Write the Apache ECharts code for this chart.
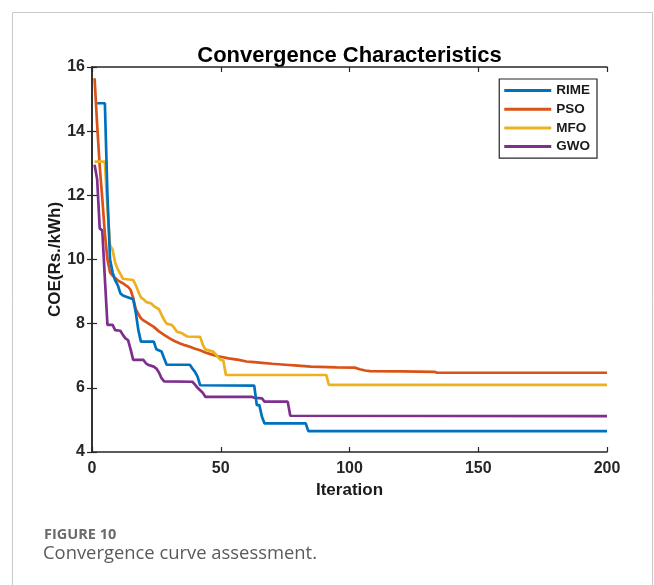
<!DOCTYPE html>
<html>
<head>
<meta charset="utf-8">
<script src="https://cdn.jsdelivr.net/npm/echarts@6/dist/echarts.min.js"></script>
<style>
html,body{margin:0;padding:0;background:#fff;}
#chart{width:654px;height:585px;}
</style>
</head>
<body>
<div id="chart"></div>
<script>
// ---- data ([iteration, COE]) ----
const seriesNames = ['RIME', 'PSO', 'MFO', 'GWO'];
const xTicks = [0, 50, 100, 150, 200];
const yTicks = [4, 6, 8, 10, 12, 14, 16];

const rimeData = [
  [2,14.87],[5,14.87],[6,12.0],[7,10.0],[8,9.6],[9,9.35],[10,9.2],[11,8.95],[12,8.88],[13,8.85],
  [16,8.76],[17,8.35],[18,7.8],[19,7.44],[24,7.44],[25,7.2],[27,7.13],[28,6.92],[29,6.72],
  [38,6.72],[39,6.6],[40,6.5],[41,6.35],[42,6.08],[63,6.07],[64,5.46],[65,5.46],[66,5.1],
  [67,4.89],[83,4.89],[84,4.65],[200,4.65]
];
const psoData = [
  [1,15.65],[2,14.2],[3,12.9],[4,11.9],[5,10.8],[6,10.0],[7,9.6],[8,9.5],[9,9.42],[10,9.35],
  [11,9.3],[12,9.26],[13,9.2],[14,9.15],[15,9.05],[16,8.8],[17,8.45],[18,8.3],[19,8.17],
  [20,8.1],[22,8.0],[24,7.9],[26,7.76],[28,7.65],[30,7.55],[32,7.46],[34,7.39],[36,7.33],
  [38,7.28],[40,7.22],[42,7.17],[44,7.1],[46,7.05],[48,7.0],[50,6.97],[53,6.92],[57,6.87],
  [60,6.82],[63,6.8],[66,6.78],[70,6.75],[75,6.72],[80,6.69],[85,6.66],[95,6.64],[102,6.63],
  [104,6.58],[106,6.54],[108,6.52],[120,6.51],[133,6.5],[134,6.47],[200,6.47]
];
const mfoData = [
  [1,13.05],[5,13.05],[6,11.6],[7,10.45],[8,10.3],[9,9.9],[10,9.7],[11,9.55],[12,9.4],
  [16,9.36],[17,9.2],[18,9.0],[19,8.82],[20,8.76],[21,8.68],[23,8.63],[24,8.55],[26,8.45],
  [27,8.28],[28,8.12],[29,8.0],[31,7.96],[32,7.86],[33,7.75],[35,7.7],[37,7.6],[42,7.59],
  [43,7.35],[44,7.2],[47,7.13],[48,7.05],[49,6.95],[50,6.87],[51,6.85],[52,6.4],[91,6.4],
  [92,6.09],[200,6.09]
];
const gwoData = [
  [1,12.95],[2,12.5],[3,10.97],[4,10.9],[5,9.4],[6,7.96],[8,7.96],[9,7.8],[11,7.78],
  [12,7.65],[13,7.54],[14,7.49],[15,7.2],[16,6.87],[20,6.87],[21,6.76],[22,6.71],[24,6.66],
  [25,6.6],[26,6.48],[27,6.3],[28,6.2],[39,6.19],[40,6.1],[41,6.0],[43,5.85],[44,5.72],
  [62,5.72],[63,5.69],[66,5.67],[67,5.57],[76,5.57],[77,5.13],[200,5.12]
];
const allData = [rimeData, psoData, mfoData, gwoData];
const colors = ['#0072BD', '#D95319', '#EDB120', '#7E2F8E'];

const FONT = '"Liberation Sans", Arial, sans-serif';
const chart = echarts.init(document.getElementById('chart'), null, {renderer: 'canvas'});

const axisCommon = {
  min: 0, max: 200, interval: 50, type: 'value',
  axisLine: {show: true, lineStyle: {color: '#262626', width: 1.5}},
  axisTick: {show: true, inside: true, length: 5, lineStyle: {color: '#262626', width: 1.2}},
  splitLine: {show: false}
};

const option = {
  backgroundColor: '#fff',
  animation: false,
  grid: {left: 92, right: 47, top: 67, bottom: 133, containLabel: false},
  xAxis: [
    Object.assign({}, axisCommon, {
      position: 'bottom',
      name: 'Iteration', nameLocation: 'middle', nameGap: 30,
      nameTextStyle: {fontFamily: FONT, fontWeight: 'bold', fontSize: 17, color: '#1a1a1a'},
      axisLabel: {fontFamily: FONT, fontWeight: 'bold', fontSize: 16, color: '#262626', margin: 9,
        formatter: v => xTicks.includes(v) ? String(v) : ''}
    }),
    Object.assign({}, axisCommon, {position: 'top', axisLabel: {show: false}})
  ],
  yAxis: [
    Object.assign({}, axisCommon, {
      min: 4, max: 16, interval: 2, position: 'left',
      axisLabel: {fontFamily: FONT, fontWeight: 'bold', fontSize: 16, color: '#262626', margin: 7,
        formatter: v => yTicks.includes(v) ? String(v) : ''}
    }),
    Object.assign({}, axisCommon, {min: 4, max: 16, interval: 2, position: 'right', axisLabel: {show: false}})
  ],
  legend: {
    orient: 'vertical',
    right: 57, top: 79,
    backgroundColor: '#fff',
    borderColor: '#262626', borderWidth: 1.2,
    padding: [4, 7, 4, 5],
    itemGap: 3.7,
    itemWidth: 47, itemHeight: 3,
    icon: 'rect',
    textStyle: {fontFamily: FONT, fontWeight: 'bold', fontSize: 13.5, color: '#1a1a1a', lineHeight: 15},
    data: seriesNames
  },
  graphic: [
    {type: 'rect', silent: true, z: -10,
      shape: {x: 12.5, y: 12.5, width: 640, height: 620},
      style: {fill: 'none', stroke: '#c8c8c8', lineWidth: 1}},
    {type: 'text', x: 349.5, y: 56, silent: true,
      style: {text: 'Convergence Characteristics', fontFamily: FONT, fontWeight: 'bold', fontSize: 22,
        fill: '#000', align: 'center', verticalAlign: 'middle'}},
    {type: 'text', x: 55, y: 259.5, rotation: Math.PI / 2, silent: true,
      style: {text: 'COE(Rs./kWh)', fontFamily: FONT, fontWeight: 'bold', fontSize: 17,
        fill: '#1a1a1a', align: 'center', verticalAlign: 'middle'}},
    {type: 'text', x: 44, y: 535, silent: true,
      style: {text: 'FIGURE 10', fontFamily: '"Open Sans", "Noto Sans", sans-serif', fontWeight: 'bold', fontSize: 14.5,
        fill: '#6b6b6b', verticalAlign: 'middle'}},
    {type: 'text', x: 43, y: 554, silent: true,
      style: {text: 'Convergence curve assessment.', fontFamily: '"Open Sans", "Noto Sans", sans-serif', fontSize: 18.4,
        fill: '#5a5a5a', verticalAlign: 'middle'}}
  ],
  series: seriesNames.map((n, i) => ({
    name: n, type: 'line', data: allData[i],
    xAxisIndex: 0, yAxisIndex: 0,
    showSymbol: false, symbol: 'none',
    lineStyle: {color: colors[i], width: 2.7},
    itemStyle: {color: colors[i]},
    z: 2 + (i === 0 ? 3 : i === 3 ? 0 : i)
  }))
};
chart.setOption(option);
</script>
</body>
</html>
